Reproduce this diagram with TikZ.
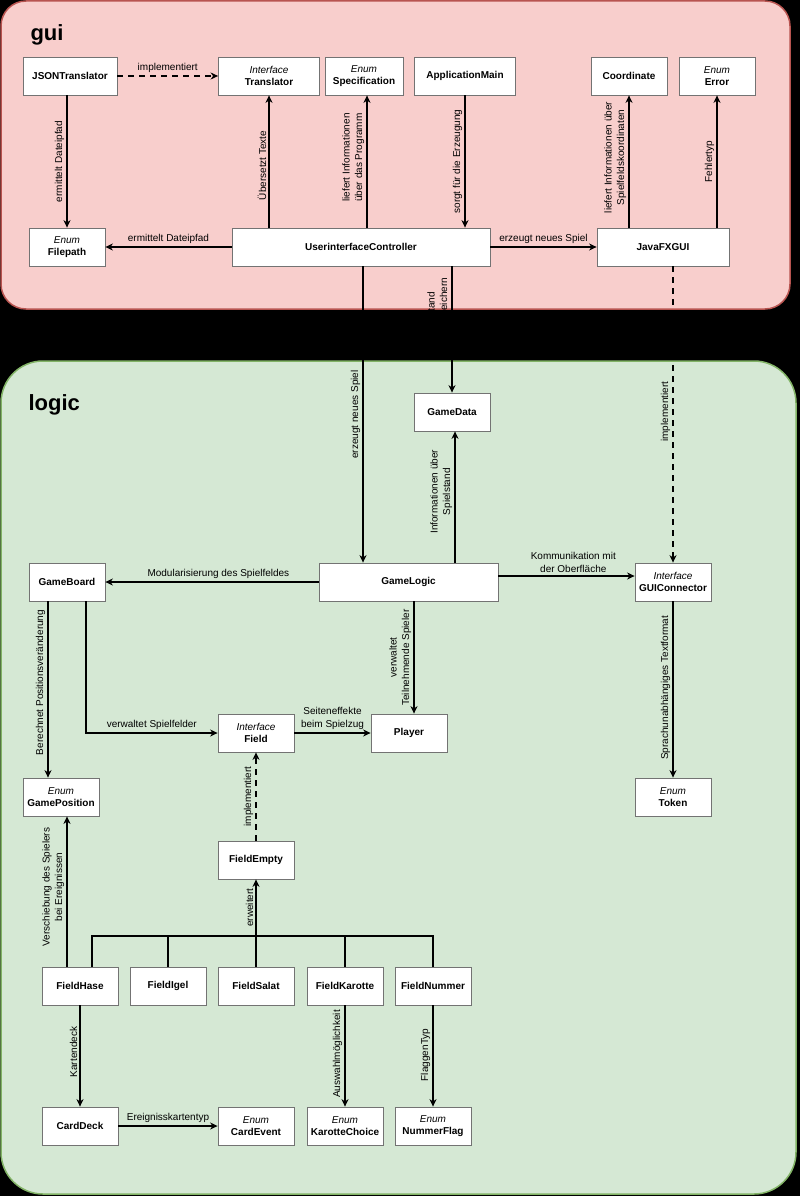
\documentclass[tikz,border=0pt]{standalone}
\usepackage{fontspec}
\setmainfont{Liberation Sans}
\usetikzlibrary{arrows.meta}
\definecolor{guifill}{HTML}{F8CECC}
\definecolor{guiline}{HTML}{B85450}
\definecolor{logicfill}{HTML}{D5E8D4}
\definecolor{logicline}{HTML}{82B366}
\newcommand{\stereotype}[1]{{\mdseries\itshape #1}\\}

\begin{document}
\begin{tikzpicture}[x=1pt,y=-1pt,>={Stealth[length=7.5pt,width=7pt]},
                    font=\fontsize{10}{12.5}\selectfont]
    \tikzset{
      cls/.style={draw=black!55,line width=0.8pt,fill=white,minimum width=76pt,
                  minimum height=38pt,align=center,inner sep=1pt,
                  font=\fontsize{10}{12.5}\selectfont\bfseries},
      rel/.style={line width=1.6pt,->},
      impl/.style={rel,dash pattern=on 6pt off 5pt},
      vlbl/.style={rotate=90,anchor=south,inner sep=2pt,align=center},
      hlbl/.style={above,inner sep=3pt,align=center},
      title/.style={anchor=base west,font=\fontsize{22}{26}\selectfont\bfseries}
    }
    % background and packages
    \fill[black] (0,0) rectangle (800,1196);
    \useasboundingbox (0,0) rectangle (800,1196);
    \draw[guiline,fill=guifill,line width=1.5pt,rounded corners=25pt] (1,1) rectangle (790,309);
    \draw[logicline,fill=logicfill,line width=1.5pt,rounded corners=42pt] (1,361) rectangle (796,1194);
    \node[title] (gui) at (27,41) {gui};
    \node[title] (logic) at (25,410) {logic};

    % gui
    \node[cls,minimum width=94pt] (JSONTranslator) at (70,76) {JSONTranslator};
    \node[cls,minimum width=101pt] (Translator) at (269,76) {\stereotype{Interface}Translator};
    \node[cls,minimum width=78pt] (Specification) at (364,76) {\stereotype{Enum}Specification};
    \node[cls,minimum width=101pt] (ApplicationMain) at (465,76) {ApplicationMain};
    \node[cls] (Coordinate) at (629,76) {Coordinate};
    \node[cls] (Error) at (717,76) {\stereotype{Enum}Error};
    \node[cls] (Filepath) at (67,247) {\stereotype{Enum}Filepath};
    \node[cls,minimum width=258pt] (Controller) at (361,247) {UserinterfaceController};
    \node[cls,minimum width=132pt] (JavaFXGUI) at (663,247) {JavaFXGUI};

    % logic
    \node[cls] (GameData) at (452,412) {GameData};
    \node[cls] (GameBoard) at (67,582) {GameBoard};
    \node[cls,minimum width=179pt] (GameLogic) at (408.5,582) {GameLogic};
    \node[cls] (GUIConnector) at (673,582) {\stereotype{Interface}GUIConnector};
    \node[cls] (Field) at (256,733) {\stereotype{Interface}Field};
    \node[cls] (Player) at (409,733) {Player};
    \node[cls] (GamePosition) at (61,797) {\stereotype{Enum}GamePosition};
    \node[cls] (Token) at (673,797) {\stereotype{Enum}Token};
    \node[cls] (FieldEmpty) at (256,860) {FieldEmpty};
    \foreach \name/\x in {FieldHase/80,FieldIgel/168,FieldSalat/256,FieldKarotte/345,FieldNummer/433}
      \node[cls] (\name) at (\x,986) {\name};
    \node[cls] (CardDeck) at (80,1126) {CardDeck};
    \node[cls] (CardEvent) at (256,1126) {\stereotype{Enum}CardEvent};
    \node[cls] (KarotteChoice) at (345,1126) {\stereotype{Enum}KarotteChoice};
    \node[cls] (NummerFlag) at (433,1126) {\stereotype{Enum}NummerFlag};
    \coordinate (branch) at (256,936);

    % gui relations
    \draw[impl] (JSONTranslator) -- node[hlbl]{implementiert} (Translator);
    \draw[rel] (JSONTranslator.south -| Filepath) -- node[vlbl]{ermittelt Dateipfad} (Filepath);
    \draw[rel] (Controller) -- node[hlbl]{ermittelt Dateipfad} (Filepath);
    \draw[rel] (Controller.north -| Translator) -- node[vlbl,pos=.47]{Übersetzt Texte} (Translator);
    \draw[rel] ([xshift=3pt]Controller.north -| Specification) -- node[vlbl,pos=.53]{liefert Informationen\\über das Programm} ([xshift=3pt]Specification.south);
    \draw[rel] (ApplicationMain) -- node[vlbl]{sorgt für die Erzeugung} (ApplicationMain |- Controller.north);
    \draw[rel] (Controller) -- node[hlbl]{erzeugt neues Spiel} (JavaFXGUI);
    \draw[rel] (JavaFXGUI.north -| Coordinate) -- node[vlbl,pos=.53]{liefert Informationen über\\Spielfeldskoordinaten} (Coordinate);
    \draw[rel] (JavaFXGUI.north -| Error) -- node[vlbl]{Fehlertyp} (Error);

    % between the packages
    \draw[rel] ([xshift=2pt]Controller.south) -- node[vlbl]{erzeugt neues Spiel} ([xshift=2pt]Controller.south |- GameLogic.north);
    \draw[rel] (Controller.south -| GameData) -- node[vlbl,pos=.39]{Spielstand\\Laden/Speichern} (GameData);
    \draw[impl] (JavaFXGUI.south -| GUIConnector) -- node[vlbl,pos=.49]{implementiert} (GUIConnector);

    % logic relations
    \draw[rel] ([xshift=3pt]GameLogic.north -| GameData) -- node[vlbl,pos=.54]{Informationen über\\Spielstand} ([xshift=3pt]GameData.south);
    \draw[rel] (GameLogic) -- node[hlbl,pos=.47]{Modularisierung des Spielfeldes} (GameBoard);
    \draw[rel] ([yshift=6pt]GameLogic.east) -- node[hlbl,pos=.55]{Kommunikation mit\\der Oberfläche} ([yshift=6pt]GUIConnector.west);
    \draw[rel] ([xshift=5pt]GameLogic.south -| Player) -- node[vlbl]{verwaltet\\Teilnehmende Spieler} ([xshift=5pt]Player.north);
    \draw[rel] (GUIConnector) -- node[vlbl,pos=.49]{Sprachunabhängiges Textformat} (Token);
    \draw[rel] ([xshift=-19pt]GameBoard.south) -- node[vlbl,pos=.46]{Berechnet Positionsveränderung} ([xshift=-19pt]GameBoard.south |- GamePosition.north);
    \draw[rel] ([xshift=19pt]GameBoard.south) |- node[hlbl,pos=.75]{verwaltet Spielfelder} (Field);
    \draw[rel] (Field) -- node[hlbl]{Seiteneffekte\\beim Spielzug} (Player);
    \draw[impl] (FieldEmpty) -- node[vlbl]{implementiert} (Field);
    \foreach \name in {FieldIgel,FieldSalat,FieldKarotte,FieldNummer}
      \draw[line width=1.6pt] (\name.north) |- (branch);
    \draw[line width=1.6pt] ([xshift=12pt]FieldHase.north) |- (branch);
    \draw[rel] (branch) -- node[vlbl]{erweitert} (FieldEmpty);
    \draw[rel] ([xshift=-13pt]FieldHase.north) -- node[vlbl,pos=.53]{Verschiebung des Spielers\\bei Ereignissen} ([xshift=-13pt]FieldHase.north |- GamePosition.south);
    \draw[rel] (FieldHase) -- node[vlbl,pos=.46]{Kartendeck} (CardDeck);
    \draw[rel] (CardDeck) -- node[hlbl]{Ereignisskartentyp} (CardEvent);
    \draw[rel] (FieldKarotte) -- node[vlbl,pos=.48]{Auswahlmöglichkeit} (KarotteChoice);
    \draw[rel] (FieldNummer) -- node[vlbl,pos=.49]{FlaggenTyp} (NummerFlag);
\end{tikzpicture}
\end{document}
